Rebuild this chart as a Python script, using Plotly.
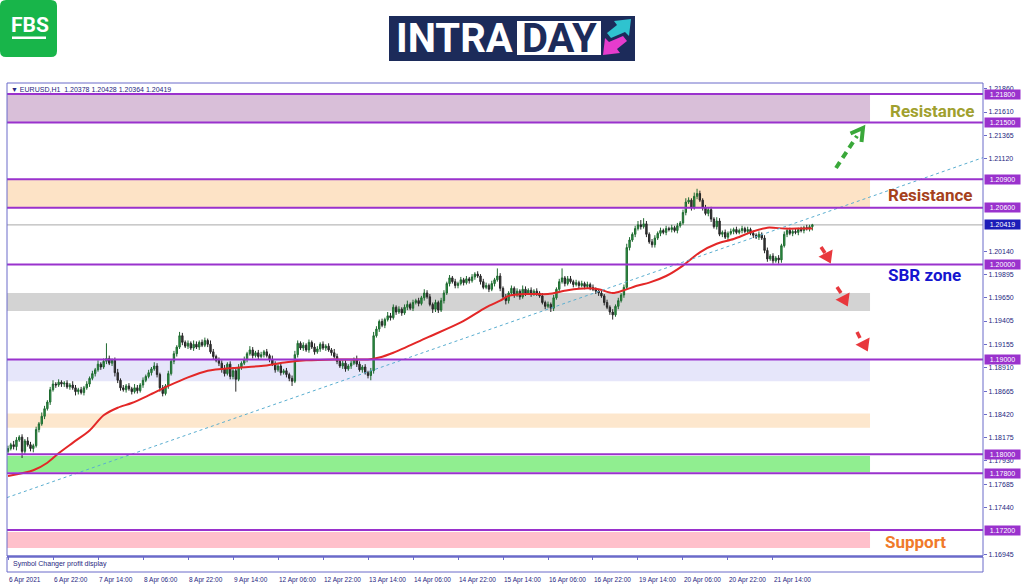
import plotly.graph_objects as go

# ---------------- data ----------------
# closing prices, in units of 0.0001 (11806 -> 1.1806), one per H1 bar
closes_p = [
    11806, 11810, 11808, 11815, 11818, 11803, 11814, 11810, 11806, 11809,
    11826, 11832, 11840, 11848, 11855, 11868, 11874, 11873, 11876, 11874,
    11875, 11871, 11873, 11870, 11866, 11868, 11865, 11870, 11874, 11880,
    11885, 11889, 11895, 11892, 11898, 11901, 11896, 11899, 11886, 11878,
    11870, 11868, 11872, 11869, 11866, 11870, 11867, 11873, 11878, 11882,
    11886, 11890, 11893, 11884, 11870, 11864, 11872, 11885, 11898, 11906,
    11913, 11925, 11918, 11914, 11917, 11912, 11916, 11913, 11918, 11915,
    11920, 11916, 11908, 11903, 11899, 11896, 11890, 11885, 11895, 11882,
    11888, 11879, 11892, 11896, 11900, 11906, 11910, 11904, 11907, 11903,
    11905, 11908, 11904, 11900, 11895, 11889, 11893, 11886, 11888, 11884,
    11880, 11877, 11905, 11917, 11912, 11915, 11910, 11918, 11913, 11908,
    11911, 11916, 11912, 11914, 11910, 11907, 11903, 11898, 11893, 11896,
    11890, 11893, 11896, 11900, 11895, 11889, 11892, 11886, 11883, 11888,
    11925, 11932, 11940, 11936, 11942, 11946, 11944, 11955, 11950, 11953,
    11949, 11955, 11958, 11954, 11960, 11962, 11959, 11965, 11970, 11966,
    11958, 11953, 11960, 11952, 11962, 11970, 11980, 11986, 11982, 11978,
    11980, 11984, 11981, 11985, 11983, 11987, 11990, 11988, 11982, 11976,
    11978, 11974, 11980, 11984, 11988, 11975, 11966, 11962, 11970, 11975,
    11968, 11972, 11966, 11974, 11970, 11973, 11969, 11972, 11970, 11967,
    11960, 11956, 11958, 11954, 11965, 11974, 11982, 11986, 11980, 11985,
    11982, 11979, 11981, 11978, 11980, 11977, 11979, 11976, 11974, 11972,
    11970, 11967, 11960, 11955, 11950, 11947, 11956, 11962, 11968, 11976,
    12018, 12026, 12032, 12038, 12042, 12040, 12043, 12032, 12024, 12021,
    12028, 12033, 12036, 12034, 12038, 12037, 12039, 12036, 12041, 12044,
    12055, 12066, 12068, 12060, 12072, 12075, 12068, 12060, 12054, 12058,
    12048, 12040, 12046, 12032, 12034, 12029, 12033, 12035, 12037, 12034,
    12036, 12038, 12035, 12037, 12033, 12031, 12029, 12032, 12028, 12015,
    12006, 12009, 12004, 12007, 12005, 12020, 12032, 12036, 12033, 12035,
    12034, 12037, 12036, 12039, 12038, 12040, 12042,
]
first_open_p = 11803
# wick lengths beyond the candle body, in units of 0.0001
upper_wick_p = [
    3, 2, 4, 3, 2, 3, 2, 4, 3, 2,   3, 2, 4, 3, 2, 3, 4, 2, 3, 2,
    2, 3, 2, 4, 3, 2, 3, 2, 3, 2,   3, 2, 4, 2, 3, 16, 3, 2, 3, 4,
    2, 3, 2, 3, 2, 4, 3, 2, 3, 2,   3, 2, 4, 3, 2, 3, 2, 3, 2, 3,
    2, 4, 3, 2, 3, 2, 4, 3, 2, 3,   3, 2, 4, 3, 2, 3, 3, 4, 2, 3,
    3, 4, 3, 2, 3, 2, 4, 3, 2, 3,   3, 2, 3, 2, 4, 3, 2, 3, 2, 3,
    2, 3, 4, 3, 2, 3, 2, 3, 2, 4,   3, 2, 3, 2, 3, 2, 4, 3, 2, 3,
    3, 2, 3, 2, 4, 3, 2, 3, 2, 3,   4, 3, 2, 3, 2, 4, 3, 3, 2, 3,
    2, 3, 4, 2, 3, 2, 3, 2, 4, 3,   3, 2, 3, 2, 3, 3, 2, 3, 2, 3,
    2, 3, 2, 3, 2, 3, 2, 3, 2, 3,   3, 2, 3, 2, 8, 3, 2, 3, 2, 3,
    2, 3, 2, 4, 3, 2, 3, 2, 3, 2,   3, 2, 3, 2, 3, 2, 3, 10, 2, 3,
    3, 2, 3, 2, 3, 2, 3, 2, 3, 2,   2, 3, 2, 3, 2, 3, 2, 3, 2, 3,
    4, 3, 2, 3, 4, 5, 6, 3, 2, 3,   3, 2, 3, 2, 3, 2, 3, 2, 3, 2,
    3, 4, 3, 2, 4, 5, 3, 2, 3, 2,   3, 2, 4, 3, 2, 3, 2, 3, 2, 3,
    2, 3, 2, 3, 2, 3, 2, 3, 2, 3,   3, 2, 3, 2, 3, 2, 3, 2, 3, 2,
    3, 2, 3, 2, 3, 2, 1,
]
lower_wick_p = [
    3, 2, 3, 4, 2, 7, 3, 2, 3, 4,   2, 3, 2, 3, 2, 3, 2, 3, 2, 3,
    3, 2, 3, 2, 4, 3, 2, 3, 2, 3,   2, 3, 2, 3, 2, 3, 2, 3, 4, 3,
    3, 2, 3, 2, 3, 2, 3, 2, 3, 2,   2, 3, 2, 3, 4, 3, 2, 3, 2, 3,
    3, 2, 3, 2, 3, 2, 3, 2, 3, 2,   2, 3, 2, 3, 2, 3, 4, 3, 2, 3,
    3, 13, 2, 3, 2, 3, 2, 3, 2, 3,  2, 3, 2, 3, 2, 3, 2, 3, 2, 3,
    3, 5, 2, 3, 2, 3, 2, 3, 2, 3,   2, 3, 2, 3, 2, 3, 2, 3, 2, 3,
    3, 2, 3, 2, 3, 2, 3, 2, 3, 5,   3, 2, 3, 2, 3, 2, 3, 2, 3, 2,
    3, 2, 3, 2, 3, 2, 3, 2, 3, 2,   2, 4, 3, 3, 2, 3, 2, 3, 2, 3,
    3, 2, 3, 2, 3, 2, 3, 2, 3, 2,   2, 3, 2, 3, 2, 3, 2, 4, 3, 2,
    3, 2, 3, 2, 3, 2, 3, 2, 3, 2,   2, 3, 2, 4, 3, 2, 3, 2, 3, 2,
    2, 3, 2, 3, 2, 3, 2, 3, 2, 3,   3, 2, 3, 2, 3, 5, 2, 3, 2, 3,
    2, 3, 2, 3, 2, 3, 2, 3, 2, 3,   3, 2, 3, 2, 3, 2, 3, 2, 3, 2,
    2, 3, 2, 3, 2, 3, 2, 3, 2, 3,   3, 2, 3, 2, 3, 2, 3, 2, 3, 2,
    2, 3, 2, 3, 2, 3, 2, 3, 2, 3,   3, 2, 3, 2, 4, 3, 2, 3, 2, 3,
    2, 3, 2, 3, 2, 3, 4,
]

# moving average (red line), sampled points: bar index and value (0.0001 units)
ma_bars = [0, 9, 14, 18, 23, 29, 34, 39, 44, 50, 57, 64, 71, 80, 90, 99, 106, 116, 128, 132,
           137, 149, 161, 170, 175, 178, 185, 192, 199, 206, 210, 215, 219, 224, 228, 234,
           240, 246, 252, 258, 264, 270, 276, 282, 286]
ma_vals_p = [11777, 11783, 11791, 11801, 11812, 11825, 11841, 11849, 11854, 11862, 11872, 11881,
             11888, 11891, 11893, 11897, 11899, 11900, 11900, 11902, 11907, 11923, 11939, 11955,
             11962, 11967, 11969, 11969, 11973, 11975, 11974, 11970, 11973, 11978, 11981, 11988,
             11999, 12013, 12022, 12027, 12034, 12039, 12038, 12038, 12038]

# dotted trend line end points
trend_bars = [-0.4, 346.7]
trend_vals = [1.17542, 1.21129]

x_tick_bars = [0, 16, 32, 48, 64, 80, 96, 112, 128, 144, 160, 176, 192, 208, 224, 240, 256, 272]
x_tick_labels = ["6 Apr 2021", "6 Apr 22:00", "7 Apr 14:00", "8 Apr 06:00", "8 Apr 22:00",
                 "9 Apr 14:00", "12 Apr 06:00", "12 Apr 22:00", "13 Apr 14:00", "14 Apr 06:00",
                 "14 Apr 22:00", "15 Apr 14:00", "16 Apr 06:00", "16 Apr 22:00", "19 Apr 14:00",
                 "20 Apr 06:00", "20 Apr 22:00", "21 Apr 14:00"]
y_tick_vals = [1.21860, 1.21610, 1.21365, 1.21120, 1.20140, 1.19895, 1.19650, 1.19405, 1.19155,
               1.18910, 1.18665, 1.18420, 1.18175, 1.17930, 1.17685, 1.17440, 1.16945]

level_lines = [1.218, 1.215, 1.209, 1.206, 1.200, 1.190, 1.180, 1.178, 1.172]
current_price = 1.20419
zone_lo = [1.2150, 1.2060, 1.1951, 1.1877, 1.1828, 1.1781, 1.1701]
zone_hi = [1.2180, 1.2090, 1.1970, 1.1900, 1.1843, 1.1798, 1.1718]
zone_end_bar = 306.5
header_text = "EURUSD,H1\u00a0\u00a01.20378 1.20428 1.20364 1.20419"

# ---------------- derived ----------------
closes = [c / 10000 for c in closes_p]
opens = [first_open_p / 10000] + closes[:-1]
highs = [max(o, c) + u / 10000 for o, c, u in zip(opens, closes, upper_wick_p)]
lows = [min(o, c) - d / 10000 for o, c, d in zip(opens, closes, lower_wick_p)]
bars = list(range(len(closes)))
ma_vals = [v / 10000 for v in ma_vals_p]

# ---------------- styling / layout helpers ----------------
W, H = 1024, 587
L, R, T, B = 7, 983, 83, 572


def X(px):
    return (px - L) / (R - L)


def Y(py):
    return (B - py) / (B - T)


FRAME = "#6b6bc9"
NAVY = "#262680"
PURPLE = "#9a32cd"
zone_colors = ["#d9bfd9", "#fde3c6", "#d3d3d3", "#e6e6fa", "#fde7cd", "#90ee90", "#ffc0cb"]

fig = go.Figure()

fig.add_trace(go.Candlestick(
    x=bars, open=opens, high=highs, low=lows, close=closes,
    increasing=dict(line=dict(color="#1f6a30", width=1), fillcolor="#2f9e48"),
    decreasing=dict(line=dict(color="#262626", width=1), fillcolor="#3a3a3a"),
    whiskerwidth=0, showlegend=False, hoverinfo="skip",
))
fig.add_trace(go.Scatter(
    x=ma_bars, y=ma_vals, mode="lines", line=dict(color="#e32727", width=2, shape="spline", smoothing=0.8),
    showlegend=False, hoverinfo="skip",
))
fig.add_trace(go.Scatter(
    x=trend_bars, y=trend_vals, mode="lines", line=dict(color="#5aaed0", width=1, dash="dot"),
    showlegend=False, hoverinfo="skip",
))

shapes = []
for lo, hi, col in zip(zone_lo, zone_hi, zone_colors):
    shapes.append(dict(type="rect", xref="x", yref="y", x0=-0.4, x1=zone_end_bar, y0=lo, y1=hi,
                       fillcolor=col, line=dict(width=0), layer="below"))
shapes.append(dict(type="line", xref="paper", yref="y", x0=0, x1=1, y0=current_price, y1=current_price,
                   line=dict(color="#a8a8a8", width=1), layer="below"))
for lv in level_lines:
    shapes.append(dict(type="line", xref="paper", yref="y", x0=0, x1=1, y0=lv, y1=lv,
                       line=dict(color=PURPLE, width=2), layer="above"))

# frames
shapes.append(dict(type="rect", xref="paper", yref="paper", x0=0, x1=1, y0=Y(556), y1=1,
                   line=dict(color=FRAME, width=1)))
shapes.append(dict(type="line", xref="paper", yref="paper", x0=0, x1=1, y0=Y(556.5), y1=Y(556.5),
                   line=dict(color=FRAME, width=2)))
shapes.append(dict(type="rect", xref="paper", yref="paper", x0=0, x1=1, y0=0, y1=Y(557),
                   line=dict(color=FRAME, width=1)))

# arrows
GREEN = "#3aa83a"
shapes.append(dict(type="line", xref="paper", yref="paper", x0=X(836), y0=Y(168), x1=X(857), y1=Y(136),
                   line=dict(color=GREEN, width=4, dash="7px,5px")))
shapes.append(dict(type="path", xref="paper", yref="paper",
                   path=f"M {X(850.5)},{Y(133.5)} L {X(863)},{Y(128)} L {X(861.5)},{Y(142)}",
                   line=dict(color=GREEN, width=4)))
RED = "#e8383d"
red_arrows = [((821, 247), (825, 253), (820.6, 256.7), (830, 262), (831.4, 251.3)),
              ((837, 287), (841, 293), (837.6, 299.7), (847, 305), (848.4, 294.3)),
              ((857, 332), (860, 338), (857.6, 344.7), (867, 350), (868.4, 339.3))]
for a, b, c1, tip, c2 in red_arrows:
    shapes.append(dict(type="line", xref="paper", yref="paper", x0=X(a[0]), y0=Y(a[1]), x1=X(b[0]), y1=Y(b[1]),
                       line=dict(color=RED, width=3.5)))
    shapes.append(dict(type="path", xref="paper", yref="paper",
                       path=f"M {X(c1[0])},{Y(c1[1])} L {X(tip[0])},{Y(tip[1])} L {X(c2[0])},{Y(c2[1])} Z",
                       fillcolor=RED, line=dict(color=RED, width=2)))


def poly(pts):
    s = "M " + " L ".join(f"{X(px)},{Y(py)}" for px, py in pts) + " Z"
    return s


# FBS logo (rounded square)
r = 6
x0, x1, y0, y1 = 0, 57, 0, 57
fbs_path = (f"M {X(x0 + r)},{Y(y0)} L {X(x1 - r)},{Y(y0)} Q {X(x1)},{Y(y0)} {X(x1)},{Y(y0 + r)} "
            f"L {X(x1)},{Y(y1 - r)} Q {X(x1)},{Y(y1)} {X(x1 - r)},{Y(y1)} "
            f"L {X(x0 + r)},{Y(y1)} Q {X(x0)},{Y(y1)} {X(x0)},{Y(y1 - r)} "
            f"L {X(x0)},{Y(y0 + r)} Q {X(x0)},{Y(y0)} {X(x0 + r)},{Y(y0)} Z")
shapes.append(dict(type="path", xref="paper", yref="paper", path=fbs_path,
                   fillcolor="#18b54a", line=dict(width=0)))
shapes.append(dict(type="rect", xref="paper", yref="paper", x0=X(12), x1=X(46), y0=Y(39), y1=Y(36.5),
                   fillcolor="white", line=dict(width=0)))

# INTRADAY logo
shapes.append(dict(type="rect", xref="paper", yref="paper", x0=X(389), x1=X(635), y0=Y(61), y1=Y(16),
                   fillcolor="#1c2b5a", line=dict(width=0)))
shapes.append(dict(type="rect", xref="paper", yref="paper", x0=X(517), x1=X(601), y0=Y(55), y1=Y(21),
                   fillcolor="white", line=dict(width=0)))
shapes.append(dict(type="path", xref="paper", yref="paper",
                   path=poly([(607, 33), (617, 25), (614, 21), (631, 19), (629, 36), (625, 32), (611, 38)]),
                   fillcolor="#2fc3cf", line=dict(width=0)))
shapes.append(dict(type="path", xref="paper", yref="paper",
                   path=poly([(627, 41), (617, 49), (620, 53), (603, 55), (605, 38), (609, 42), (623, 36)]),
                   fillcolor="#e63ccd", line=dict(width=0)))

annotations = []
# x tick labels, left-aligned on their tick as in the terminal
for tb, tl in zip(x_tick_bars, x_tick_labels):
    annotations.append(dict(xref="x", yref="paper", x=tb, y=Y(574), xanchor="left", yanchor="top",
                            text=tl, showarrow=False, xshift=-1,
                            font=dict(family="Liberation Sans", size=6.5, color=NAVY)))
# highlighted price labels
for lv in level_lines:
    annotations.append(dict(xref="paper", yref="y", x=X(984), y=lv, xanchor="left", yanchor="middle",
                            text=f"{lv:.5f}", showarrow=False, bgcolor=PURPLE, width=35, height=9,
                            borderpad=0, font=dict(family="Liberation Sans", size=7, color="white")))
annotations.append(dict(xref="paper", yref="y", x=X(984), y=current_price, xanchor="left", yanchor="middle",
                        text=f"{current_price:.5f}", showarrow=False, bgcolor="#1c1cb8", width=35, height=9,
                        borderpad=0, font=dict(family="Liberation Sans", size=7, color="white")))

zone_texts = [("Resistance", 932, 111, "#a0a02e"), ("Resistance", 930, 195, "#a5411c"),
              ("SBR zone", 924, 275, "#1515cf"), ("Support", 915, 542, "#f07a2a")]
for txt, px, py, col in zone_texts:
    annotations.append(dict(xref="paper", yref="paper", x=X(px), y=Y(py), xanchor="center", yanchor="middle",
                            text=f"<b>{txt}</b>", showarrow=False,
                            font=dict(family="Roboto", size=17, color=col)))

annotations.append(dict(xref="paper", yref="paper", x=X(9), y=Y(89), xanchor="left", yanchor="middle",
                        text="\u25bc " + header_text, showarrow=False,
                        font=dict(family="Liberation Sans", size=7, color=NAVY)))
annotations.append(dict(xref="paper", yref="paper", x=X(11), y=Y(564), xanchor="left", yanchor="middle",
                        text="Symbol Changer profit display", showarrow=False,
                        font=dict(family="Liberation Sans", size=7, color=NAVY)))
annotations.append(dict(xref="paper", yref="paper", x=X(29.5), y=Y(25), xanchor="center", yanchor="middle",
                        text="<b>FBS</b>", showarrow=False,
                        font=dict(family="Roboto", size=21, color="white")))
annotations.append(dict(xref="paper", yref="paper", x=X(454), y=Y(39), xanchor="center", yanchor="middle",
                        text="<b>INTRA</b>", showarrow=False,
                        font=dict(family="Roboto", size=40, color="white")))
annotations.append(dict(xref="paper", yref="paper", x=X(559), y=Y(39), xanchor="center", yanchor="middle",
                        text="<b>DAY</b>", showarrow=False,
                        font=dict(family="Roboto", size=40, color="#1c2b5a")))

fig.update_layout(
    width=W, height=H, autosize=False,
    margin=dict(l=L, r=W - R, t=T, b=H - B, pad=0),
    paper_bgcolor="white", plot_bgcolor="white",
    showlegend=False, hovermode=False,
    shapes=shapes, annotations=annotations,
    xaxis=dict(
        range=[-0.356, 346.67], anchor="y2", domain=[0, 1],
        tickvals=x_tick_bars, ticks="outside", ticklen=3, tickcolor=FRAME,
        showticklabels=False,
        showgrid=False, zeroline=False, showline=False, rangeslider=dict(visible=False), fixedrange=True,
    ),
    yaxis=dict(
        domain=[Y(556), 1], range=[1.16926, 1.21916], side="right", anchor="x",
        tickvals=y_tick_vals, ticktext=[f"{v:.5f}" for v in y_tick_vals],
        ticks="outside", ticklen=3, tickcolor=FRAME,
        tickfont=dict(family="Liberation Sans", size=7, color=NAVY),
        showgrid=False, zeroline=False, showline=False, fixedrange=True,
    ),
    yaxis2=dict(
        domain=[0, Y(557)], range=[0, 1], side="right", anchor="x",
        showticklabels=False, ticks="", showgrid=False, zeroline=False, showline=False, fixedrange=True,
    ),
)

fig.write_html("out.html", config={"displayModeBar": False},
               post_script="document.body.style.margin='0';document.body.style.overflow='hidden';")
